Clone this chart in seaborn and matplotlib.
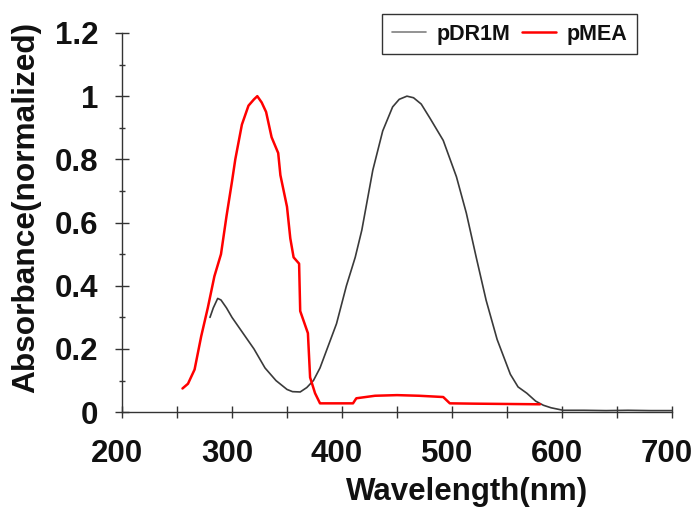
import matplotlib
matplotlib.use("Agg")
import matplotlib.pyplot as plt
import seaborn as sns
import pandas as pd
from matplotlib.ticker import MultipleLocator
from matplotlib.transforms import ScaledTranslation

# pMEA (red)
pmea_wl = [255, 260, 266, 272, 278, 284, 290, 295, 300, 303, 309, 315, 320, 323, 327,
           331, 336, 342, 344, 350, 353, 356, 361, 362, 365, 369, 371, 375.5, 380, 395,
           410, 413, 430, 450, 470, 492, 498, 520, 550, 580]
pmea_abs = [0.075, 0.09, 0.135, 0.24, 0.33, 0.43, 0.50, 0.62, 0.73, 0.80, 0.91, 0.97, 0.99,
            1.0, 0.98, 0.95, 0.87, 0.82, 0.75, 0.65, 0.55, 0.49, 0.47, 0.32, 0.29, 0.25,
            0.11, 0.06, 0.028, 0.028, 0.028, 0.044, 0.052, 0.054, 0.052, 0.048, 0.028,
            0.027, 0.026, 0.025]

# pDR1M (dark grey)
pdr_wl = [280, 283, 287, 290, 295, 300, 310, 320, 330, 340, 350, 355, 362, 368, 374,
          380, 386, 395, 404, 412, 418, 428, 437, 446, 452, 459, 465, 472, 480, 492,
          504, 513, 522, 531, 541, 553, 560, 568, 576, 583, 590, 601, 620, 640, 660,
          680, 700]
pdr_abs = [0.30, 0.33, 0.36, 0.355, 0.33, 0.30, 0.25, 0.20, 0.14, 0.10, 0.072, 0.065,
           0.064, 0.078, 0.10, 0.14, 0.196, 0.28, 0.40, 0.49, 0.576, 0.766, 0.89, 0.966,
           0.99, 1.0, 0.995, 0.975, 0.93, 0.86, 0.745, 0.63, 0.49, 0.354, 0.23, 0.12,
           0.08, 0.06, 0.035, 0.022, 0.014, 0.006, 0.006, 0.005, 0.006, 0.005, 0.005]

series_names = ["pDR1M", "pMEA"]
xticks = [200, 300, 400, 500, 600, 700]
yticks = [0, 0.2, 0.4, 0.6, 0.8, 1.0, 1.2]
ytick_labels = ["0", "0.2", "0.4", "0.6", "0.8", "1", "1.2"]

df = pd.concat([
    pd.DataFrame({"wl": pdr_wl, "abs": pdr_abs, "series": series_names[0]}),
    pd.DataFrame({"wl": pmea_wl, "abs": pmea_abs, "series": series_names[1]}),
], ignore_index=True)

sns.set_style("white")
plt.rcParams["font.family"] = ["Liberation Sans", "DejaVu Sans"]

fig = plt.figure(figsize=(6.95, 5.07), dpi=100)
ax = fig.add_axes([0.1755, 0.187, 0.7915, 0.748])

palette = {"pDR1M": "#3a3a3a", "pMEA": "#ff0000"}
sns.lineplot(data=df[df.series == "pDR1M"], x="wl", y="abs", color=palette["pDR1M"],
             lw=1.2, sort=False, ax=ax, label="pDR1M", estimator=None)
sns.lineplot(data=df[df.series == "pMEA"], x="wl", y="abs", color=palette["pMEA"],
             lw=1.8, sort=False, ax=ax, label="pMEA", estimator=None)

ax.set_xlim(200, 700)
ax.set_ylim(0, 1.2)
ax.set_xticks(xticks)
ax.set_xticklabels([str(v) for v in xticks])
ax.set_yticks(yticks)
ax.set_yticklabels(ytick_labels)
ax.xaxis.set_minor_locator(MultipleLocator(50))
ax.yaxis.set_minor_locator(MultipleLocator(0.1))

for s in ["top", "right"]:
    ax.spines[s].set_visible(False)
for s in ["left", "bottom"]:
    ax.spines[s].set_color("#333333")
    ax.spines[s].set_linewidth(1.0)

ax.tick_params(bottom=True, left=True, which="both")
ax.tick_params(axis="x", which="both", direction="inout", length=9, width=1,
               colors="#333333")
ax.tick_params(axis="y", which="major", direction="inout", length=10, width=1,
               colors="#333333")
ax.tick_params(axis="y", which="minor", direction="inout", length=5, width=1,
               colors="#333333")
ax.tick_params(axis="both", which="major", labelsize=22.5, labelcolor="#111111")
ax.tick_params(axis="x", which="major", pad=15)
ax.tick_params(axis="y", which="major", pad=12)
for lab in ax.get_xticklabels() + ax.get_yticklabels():
    lab.set_fontweight("bold")
for lab in ax.get_xticklabels():
    lab.set_transform(lab.get_transform() + ScaledTranslation(-0.05, 0, fig.dpi_scale_trans))

ax.set_xlabel("Wavelength(nm)", fontsize=22.5, fontweight="bold", color="#111111")
ax.set_ylabel("Absorbance(normalized)", fontsize=22.8, fontweight="bold", color="#111111")
ax.xaxis.set_label_coords(0.627, -0.17)
ax.yaxis.set_label_coords(-0.147, 0.54)

leg = ax.legend(loc="upper left", bbox_to_anchor=(382 / 695, 1 - 14 / 507),
                bbox_transform=fig.transFigure, ncol=2, frameon=True,
                prop={"weight": "bold", "size": 15.5}, handlelength=1.6,
                handletextpad=0.5, columnspacing=0.5, borderpad=0.45,
                borderaxespad=0, fancybox=False)
leg.get_frame().set_edgecolor("black")
leg.get_frame().set_linewidth(1.0)
leg.get_lines()[0].set_color("#808080")
for t in leg.get_texts():
    t.set_color("#111111")

fig.savefig("out.png", dpi=100)
